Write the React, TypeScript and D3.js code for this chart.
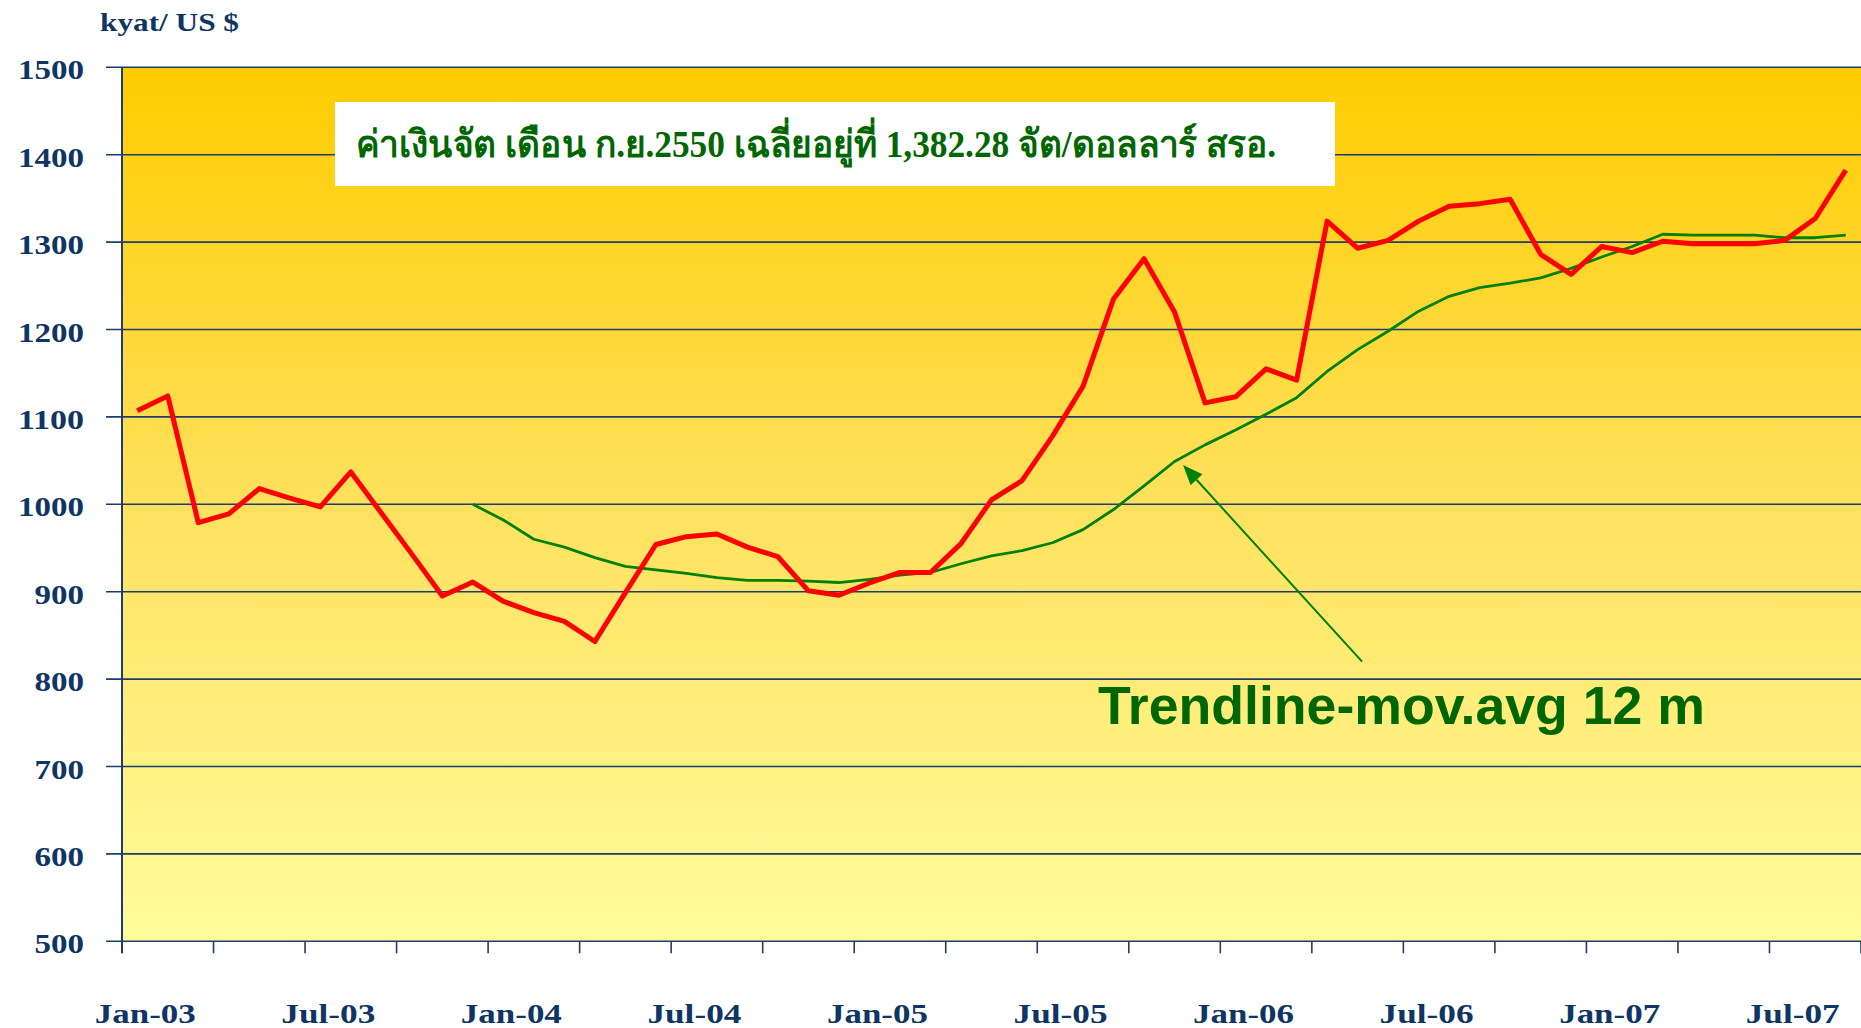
import React from "react";
import * as d3 from "d3";

// ---- data ----
const START_YEAR = 2003;
const MONTH_COUNT = 57; // Jan-03 .. Sep-07
const monthNames = ["Jan","Feb","Mar","Apr","May","Jun","Jul","Aug","Sep","Oct","Nov","Dec"];
const categories: string[] = Array.from({ length: MONTH_COUNT }, (_, i) =>
  `${monthNames[i % 12]}-${String((START_YEAR + Math.floor(i / 12)) % 100).padStart(2, "0")}`
);

const kyatRate: number[] = [
  1107, 1124, 979, 989, 1018, 1007, 997, 1037, 990, 943,
  895, 911, 889, 876, 866, 843, 899, 954, 963, 966,
  951, 940, 901, 896, 910, 922, 922, 955, 1005, 1027,
  1078, 1135, 1235, 1281, 1220, 1116, 1123, 1155, 1142, 1324,
  1293, 1302, 1324, 1341, 1344, 1349, 1286, 1263, 1295, 1288,
  1301, 1298, 1298, 1298, 1302, 1327, 1382.28,
];

// 12-month moving average (starts at Dec-03)
const movAvgStart = 11;
const movAvg: number[] = [
  1000, 982, 960, 951, 939, 929, 925, 921, 916, 913,
  913, 912, 910.5, 914, 919, 922, 932, 941, 947, 956,
  971, 994, 1021, 1049, 1068, 1085, 1103, 1122, 1152, 1177,
  1198, 1221, 1238, 1248, 1253, 1259, 1270, 1283, 1295, 1309,
  1308, 1308, 1308, 1305, 1305, 1308,
];

const yTicks: number[] = [500, 600, 700, 800, 900, 1000, 1100, 1200, 1300, 1400, 1500];
const xTickLabels: string[] = ["Jan-03","Jul-03","Jan-04","Jul-04","Jan-05","Jul-05","Jan-06","Jul-06","Jan-07","Jul-07"];

const yAxisTitle = "kyat/ US $";
const noteText = "ค่าเงินจัต เดือน ก.ย.2550 เฉลี่ยอยู่ที่ 1,382.28 จัต/ดอลลาร์ สรอ.";
const trendLabel = "Trendline-mov.avg 12 m";

// ---- layout ----
const W = 1861, H = 1028;
const plotLeft = 122, plotRight = 1861, plotTop = 67.3, plotBottom = 941.3;
const navy = "#0E3563";
const gridColor = "#1F3C6C";
const serif = "'Times New Roman', 'Liberation Serif', serif";

export default function App() {
  const x = d3.scaleBand<string>().domain(categories).range([plotLeft, plotRight]).padding(0);
  const bw = x.bandwidth();
  const cx = (i: number) => (x(categories[i]) as number) + bw / 2;
  const y = d3.scaleLinear().domain([500, 1500]).range([plotBottom, plotTop]);

  const redLine = d3.line<number>().x((_, i) => cx(i)).y((d) => y(d))(kyatRate) || "";
  const greenLine = d3.line<number>().x((_, i) => cx(i + movAvgStart)).y((d) => y(d))(movAvg) || "";

  const tickIdx: number[] = d3.range(0, MONTH_COUNT + 1, 3);
  const bandEdge = (i: number) => plotLeft + i * bw;

  // arrow annotation (points at moving average around Oct-05)
  const arrowTip = { x: cx(33) + 39, y: y(1045) };
  const arrowTail = { x: cx(39) + 35, y: y(820) };
  const ang = Math.atan2(arrowTip.y - arrowTail.y, arrowTip.x - arrowTail.x);
  const hl = 20, hw = 8;
  const bx = arrowTip.x - hl * Math.cos(ang), by = arrowTip.y - hl * Math.sin(ang);
  const head = `M${arrowTip.x},${arrowTip.y} L${bx + hw * Math.sin(ang)},${by - hw * Math.cos(ang)} L${bx - hw * Math.sin(ang)},${by + hw * Math.cos(ang)} Z`;

  return (
    <svg width={W} height={H} style={{ position: "absolute", left: 0, top: 0, display: "block", background: "#fff" }}>
      <defs>
        <linearGradient id="bg" x1="0" y1="0" x2="0" y2="1">
          <stop offset="0" stopColor="#FFCC00" />
          <stop offset="0.5" stopColor="#FFE15E" />
          <stop offset="1" stopColor="#FFFC9C" />
        </linearGradient>
      </defs>
      <rect x={plotLeft} y={plotTop} width={plotRight - plotLeft} height={plotBottom - plotTop} fill="url(#bg)" />

      {/* gridlines + y ticks */}
      {yTicks.map((t) => (
        <g key={t}>
          <line x1={106} x2={plotRight} y1={y(t)} y2={y(t)} stroke={gridColor} strokeWidth={1.6} />
          <text x={84} y={y(t) + 12} textAnchor="end" fontFamily={serif} fontWeight="bold" fontSize={28}
            fill={navy} textLength={String(t).length * 16.5} lengthAdjust="spacingAndGlyphs">{t}</text>
        </g>
      ))}

      {/* y axis */}
      <line x1={plotLeft} x2={plotLeft} y1={plotTop} y2={plotBottom + 12} stroke={gridColor} strokeWidth={2} />

      {/* x ticks */}
      {tickIdx.map((i) => (
        <line key={i} x1={bandEdge(i)} x2={bandEdge(i)} y1={plotBottom} y2={plotBottom + 12} stroke={gridColor} strokeWidth={1.6} />
      ))}
      {xTickLabels.map((lab) => {
        const i = categories.indexOf(lab);
        return (
          <text key={lab} x={cx(i) + 8} y={1022.5} textAnchor="middle" fontFamily={serif} fontWeight="bold"
            fontSize={28} fill={navy} textLength={lab.startsWith("Jan") ? 101 : 94} lengthAdjust="spacingAndGlyphs">{lab}</text>
        );
      })}

      {/* y axis title */}
      <text x={100} y={30.7} fontFamily={serif} fontWeight="bold" fontSize={26} fill={navy}
        textLength={139} lengthAdjust="spacingAndGlyphs">{yAxisTitle}</text>

      {/* note box */}
      <rect x={335} y={102} width={1000} height={84} fill="#FFFFFF" />
      <text x={356} y={157} fontFamily={serif} fontWeight="bold" fontSize={38} fill="#006600"
        textLength={920} lengthAdjust="spacingAndGlyphs">{noteText}</text>

      {/* series */}
      <path d={greenLine} fill="none" stroke="#008000" strokeWidth={2.8} strokeLinejoin="round" />
      <path d={redLine} fill="none" stroke="#FF0000" strokeWidth={5} strokeLinejoin="round" />

      {/* arrow annotation */}
      <line x1={arrowTail.x} y1={arrowTail.y} x2={bx} y2={by} stroke="#008000" strokeWidth={2} />
      <path d={head} fill="#008000" />

      <text x={1098} y={723.5} fontFamily="Arial, 'Liberation Sans', sans-serif" fontWeight="bold" fontSize={53}
        fill="#006600" textLength={607} lengthAdjust="spacingAndGlyphs">{trendLabel}</text>
    </svg>
  );
}
